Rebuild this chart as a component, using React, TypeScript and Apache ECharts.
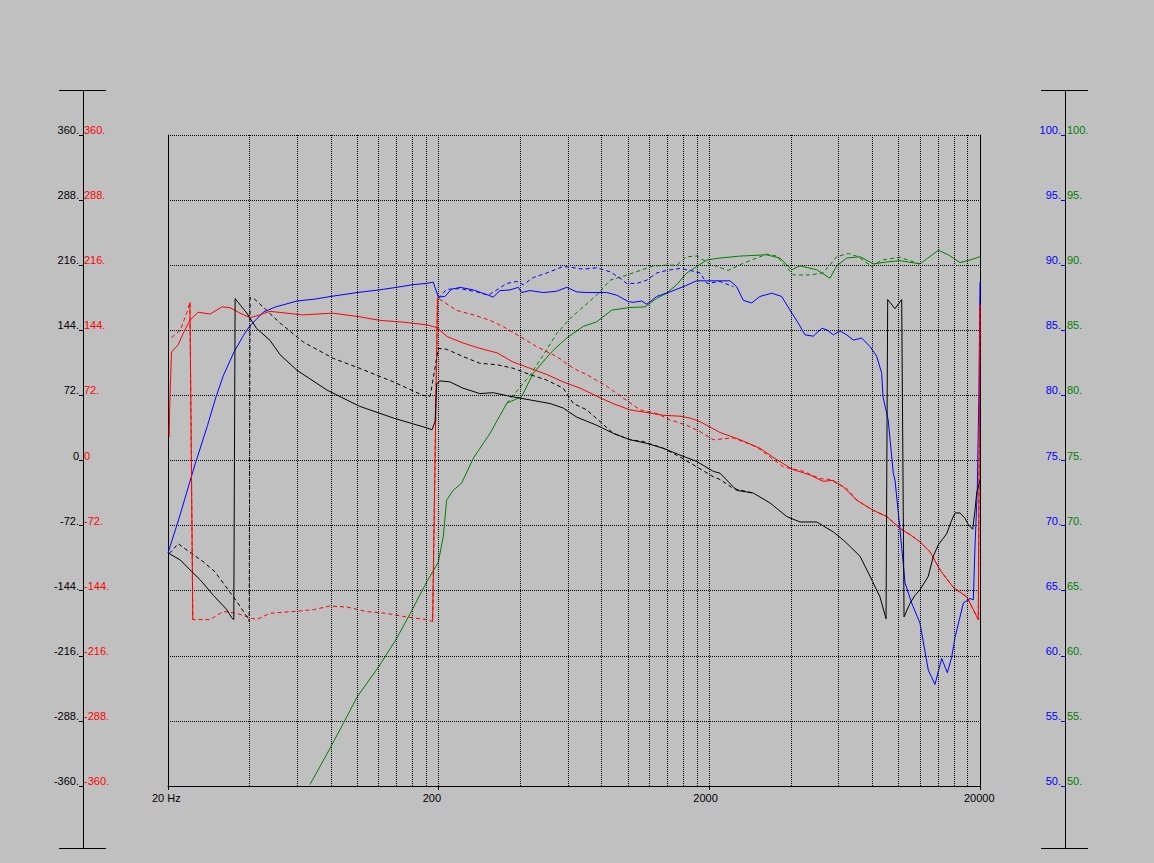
import React, { useEffect, useRef } from 'react';
import * as echarts from 'echarts';

// ---- axis ticks / labels ----
const FREQ_TICK_LABELS = ['20 Hz', '200', '2000', '20000'];
const GRID_FREQS = [40, 60, 80, 100, 120, 140, 160, 180, 200, 400, 600, 800, 1000, 1200, 1400, 1600, 1800, 2000, 4000, 6000, 8000, 10000, 12000, 14000, 16000, 18000];
const PHASE_TICKS = [-360, -288, -216, -144, -72, 0, 72, 144, 216, 288, 360];
const PHASE_LABELS = ['-360.', '-288.', '-216.', '-144.', '-72.', '0', '72.', '144.', '216.', '288.', '360.'];
const DB_TICKS = [50, 55, 60, 65, 70, 75, 80, 85, 90, 95, 100];
const DB_LABELS = ['50.', '55.', '60.', '65.', '70.', '75.', '80.', '85.', '90.', '95.', '100.'];

// ---- series: [frequency Hz, value] ----
const blueSolid = [[20,67.9],[22,70.6],[25,74.5],[28,77.7],[30,79.8],[32,81.5],[35,83.3],[38,84.6],[40,85.3],[45,86.4],[50,86.8],[60,87.25],[70,87.4],[80,87.6],[100,87.9],[120,88.1],[140,88.3],[160,88.5],[180,88.6],[191,88.7],[199.4,87.55],[211,87.6],[223,88.15],[240,88.3],[269,88.1],[305,87.7],[318,87.55],[337,88.05],[367,88.1],[394,88.3],[405,87.9],[435,88.05],[487,87.9],[546,88.0],[594,88.3],[647,87.95],[705,87.9],[835,87.9],[910,87.7],[1004,87.2],[1047,87.15],[1125,87.25],[1174,87.0],[1278,87.6],[1431,87.95],[1603,88.35],[1796,88.8],[1955,88.8],[2384,88.8],[2524,88.35],[2670,87.3],[2868,87.1],[3078,87.6],[3400,87.85],[3700,87.6],[3972,86.55],[4264,85.55],[4512,84.65],[4844,84.55],[5202,85.15],[5428,85.05],[5742,84.65],[6080,84.95],[6437,84.65],[6806,84.25],[7310,84.4],[7848,83.75],[8306,83.0],[8668,81.7],[8764,79.9],[9160,78.1],[9566,74.0],[9704,73.5],[10128,69.7],[10568,65.6],[11188,64.05],[12004,62.5],[12884,58.9],[13636,57.8],[14440,59.8],[15146,58.7],[15720,59.9],[16168,61.4],[17356,64.05],[18368,64.4],[18894,64.3],[19170,68.4],[19538,72.7],[19794,79.6],[20000,88.7]];

const blueDashed = [[199.4,87.45],[214,88.15],[240,88.2],[276,87.95],[305,87.7],[328,88.1],[357,88.6],[389,88.75],[411,88.5],[447,89.05],[501,89.4],[577,89.9],[611,89.85],[684,89.7],[767,89.8],[859,89.5],[936,89.0],[990,88.6],[1078,88.6],[1174,88.85],[1278,89.4],[1391,89.6],[1558,89.75],[1697,89.6],[1848,89.4],[1960,88.6],[2190,88.75],[2452,88.35]];

const greenSolid = [[66.9,50.1],[79.4,52.9],[88.8,54.8],[100,56.85],[120,59.15],[140,61.35],[157,63.25],[181,65.7],[199.4,67.2],[208,69.15],[214,71.95],[226,72.7],[243,73.25],[269,75.2],[310,77.1],[357,79.4],[405,79.9],[447,81.7],[523,83.35],[594,84.4],[684,85.3],[767,85.65],[872,86.55],[1018,86.75],[1157,86.8],[1278,87.45],[1391,87.85],[1515,88.5],[1650,89.4],[1796,89.9],[1955,90.4],[2190,90.55],[2596,90.7],[3258,90.8],[3648,90.55],[4030,89.65],[4326,89.95],[4986,89.65],[5582,89.0],[5910,89.95],[6437,90.55],[7210,90.65],[8070,90.1],[9044,90.25],[10128,90.35],[12004,90.1],[14040,91.15],[15274,90.8],[16872,90.2],[18368,90.4],[20000,90.65]];

const greenDashed = [[357,79.4],[435,81.55],[487,83.1],[546,84.75],[611,85.9],[684,86.8],[767,87.7],[859,88.85],[962,89.15],[1078,89.5],[1225,89.9],[1352,90.0],[1515,90.0],[1650,90.65],[1796,90.7],[2011,90.1],[2130,89.9],[2350,89.6],[2670,90.15],[3258,90.85],[3548,90.7],[4086,89.25],[4710,89.25],[5260,89.4],[5910,90.65],[6524,90.9],[7100,90.65],[7958,89.9],[8668,90.4],[10128,90.6],[12004,90.1]];

const redSolid = [[20.2,26],[20.3,62],[20.6,120],[21.8,128],[22.8,141],[24.1,155],[25.8,164],[28.6,162],[31.7,170],[33.9,169],[36.9,163],[40.2,158],[43.7,161],[47.6,165],[63,161],[81,163],[102,159],[121,155],[148,153],[181,150],[197,147],[215,137],[246,130],[284,124],[329,119],[376,109],[435,102],[503,95],[576,87],[666,80],[769,71],[881,63],[1018,56],[1177,53],[1349,50],[1558,49],[1697,47],[1848,43],[2190,31],[2596,23],[3078,13.5],[3557,0.6],[4075,-10],[4710,-16],[5260,-23],[5728,-22],[6236,-29],[7024,-44],[8050,-55],[9044,-62],[10128,-75],[11026,-82],[12004,-90],[13074,-101],[14232,-121],[15898,-140],[17900,-151],[19712,-176],[20000,172]];

const redDashed = [[20.6,136],[22.2,144],[23.5,164],[24.1,175],[24.7,-176],[28.6,-176],[32,-167],[35.9,-169],[40.2,-174],[42.5,-176],[47.6,-169],[58,-167],[69,-165],[79,-161],[91.5,-162],[108,-167],[128,-169],[152,-173],[181,-176],[190,-178],[198,180],[233,166],[269,161],[310,155],[347,148],[400,137],[460,126],[546,115],[629,102],[725,93],[835,82],[962,69],[1109,56],[1278,52],[1431,45],[1650,39],[1848,32],[2068,23],[2452,25],[2992,15],[3752,-7],[4449,-12],[5128,-20],[5584,-21],[6437,-31],[7008,-44],[8050,-55],[9044,-62],[10128,-75],[11026,-82],[12004,-90],[13074,-101],[14232,-121],[15898,-140],[17900,-151],[19712,-176],[20000,172]];

const blackSolid = [[20.2,-103],[22.2,-110],[24.5,-123],[26.3,-132],[29.4,-149],[33,-165],[34.4,-174],[35.0,-176],[35.4,179],[39.1,163],[42.5,146],[47.6,133],[51.9,117],[59.8,100],[77.2,78],[102,60],[136,47],[181,36],[189,34],[194,43],[196.7,85],[202,88],[220,87],[246,80],[284,74],[318,75],[367,71],[435,67],[516,63],[577,58],[647,48],[767,39],[884,30],[1018,23],[1174,19],[1352,13.5],[1558,6],[1796,-1],[2068,-12],[2190,-14],[2524,-33],[2908,-36],[3352,-47],[3864,-62],[4326,-68],[4986,-68],[5742,-79],[6252,-88],[6618,-95],[7210,-106],[7848,-128],[8542,-151],[8992,-175],[9120,178],[9704,168],[10274,178],[10480,-173],[11026,-158],[11506,-149],[12004,-143],[12884,-128],[13442,-106],[14040,-93],[15068,-81],[15720,-66],[16168,-58],[16872,-58],[17610,-64],[18108,-71],[18794,-76],[19170,-55],[19438,-36],[20000,-22]];

const blackDashed = [[20.2,-103],[21.8,-92],[24.5,-103],[27,-112],[29.8,-123],[33,-141],[35.9,-156],[39.6,-175],[39.9,-178],[40.2,180],[41.6,179],[46.3,166],[51.9,152],[63.2,131],[81.6,113],[102,102],[136,87],[175,72],[186,71],[199.4,124],[214,123],[246,115],[284,107.5],[328,106],[377,102],[435,95],[501,89],[577,80],[629,63],[705,56],[789,43],[884,30],[1018,23],[1140,21],[1352,13.5],[1558,4],[1796,-7],[2068,-18],[2190,-21],[2452,-31],[2908,-36]];

const FONT = 'Liberation Sans, Arial, sans-serif';

function phaseLabel(v: number) {
  const i = PHASE_TICKS.indexOf(Math.round(v));
  return i >= 0 ? PHASE_LABELS[i] : '';
}
function dbLabel(v: number) {
  const i = DB_TICKS.indexOf(Math.round(v));
  return i >= 0 ? DB_LABELS[i] : '';
}

// the plotting program draws the +-180 wrap jumps of a dashed trace as one solid stroke
function wrapJumps(data: number[][]) {
  const segs: number[][][] = [];
  for (let i = 1; i < data.length; i++) {
    if (Math.abs(data[i][1] - data[i - 1][1]) > 300 && data[i][0] < 19000) segs.push([data[i - 1], data[i]]);
  }
  return segs;
}

function curve(data: number[][], color: string, dashed: boolean, yAxisIndex: number) {
  return {
    type: 'line',
    data,
    xAxisIndex: 0,
    yAxisIndex,
    symbol: 'none',
    showSymbol: false,
    silent: true,
    smooth: false,
    lineStyle: { color, width: 1, type: dashed ? [4, 3] : 'solid' },
    z: 3,
  };
}

export default function App() {
  const ref = useRef<HTMLDivElement>(null);
  useEffect(() => {
    if (!ref.current) return;
    const chart = echarts.init(ref.current, undefined, { renderer: 'svg' });
    const labelBase = { fontFamily: FONT, fontSize: 11, verticalAlign: 'bottom', lineHeight: 10, showMinLabel: true, showMaxLabel: true };
    const hiddenAxisParts = { splitLine: { show: false }, axisLine: { show: false, onZero: false } };
    const redWraps = wrapJumps(redDashed).map((seg) => curve(seg, '#ff0000', false, 0));
    chart.setOption({
      animation: false,
      backgroundColor: '#c0c0c0',
      grid: { left: 168, right: 174, top: 135, bottom: 77, containLabel: false },
      xAxis: [
        {
          type: 'log', logBase: 10, min: 20, max: 20000,
          axisLine: { show: true, onZero: false, lineStyle: { color: '#000', width: 1 } },
          axisTick: { show: false }, axisLabel: { show: false },
          splitLine: { show: false }, minorSplitLine: { show: false },
        },
        {
          type: 'value', min: 0, max: 3, interval: 1, position: 'bottom',
          axisLine: { show: false, onZero: false },
          axisTick: { show: true, length: 4, lineStyle: { color: '#000' } },
          splitLine: { show: false },
          axisLabel: {
            margin: 6, color: '#000', fontFamily: FONT, fontSize: 11,
            showMinLabel: true, showMaxLabel: true,
            formatter: (v: number) => '{a|' + (FREQ_TICK_LABELS[Math.round(v)] || '') + '}',
            rich: { a: { width: 32, align: 'left', fontFamily: FONT, fontSize: 11, color: '#000' } },
          },
        },
      ],
      yAxis: [
        {
          type: 'value', min: -360, max: 360, interval: 72, position: 'left',
          axisLine: { show: true, onZero: false, lineStyle: { color: '#000' } },
          axisTick: { show: false }, axisLabel: { show: false },
          splitLine: { show: true, lineStyle: { color: '#000', width: 1, type: [1, 1] } },
        },
        {
          type: 'value', min: 50, max: 100, interval: 5, position: 'right',
          axisLine: { show: true, onZero: false, lineStyle: { color: '#000' } },
          axisTick: { show: false }, axisLabel: { show: false }, splitLine: { show: false },
        },
        {
          type: 'value', min: -360, max: 360, interval: 72, position: 'left', offset: 85,
          ...hiddenAxisParts,
          axisTick: { show: true, length: 4, lineStyle: { color: '#000' } },
          axisLabel: { ...labelBase, margin: 4, color: '#000', formatter: phaseLabel },
        },
        {
          type: 'value', min: -360, max: 360, interval: 72, position: 'left', offset: 85,
          ...hiddenAxisParts,
          axisTick: { show: false },
          axisLabel: { ...labelBase, inside: true, margin: 1, color: '#ff0000', formatter: phaseLabel },
        },
        {
          type: 'value', min: 50, max: 100, interval: 5, position: 'right', offset: 85,
          ...hiddenAxisParts,
          axisTick: { show: true, inside: true, length: 4, lineStyle: { color: '#0000ff' } },
          axisLabel: { ...labelBase, inside: true, margin: 4, color: '#0000ff', formatter: dbLabel },
        },
        {
          type: 'value', min: 50, max: 100, interval: 5, position: 'right', offset: 85,
          ...hiddenAxisParts,
          axisTick: { show: false },
          axisLabel: { ...labelBase, margin: 2, color: '#008000', formatter: dbLabel },
        },
      ],
      graphic: [
        { type: 'line', silent: true, shape: { x1: 83.5, y1: 90, x2: 83.5, y2: 849 }, style: { stroke: '#000', lineWidth: 1 } },
        { type: 'line', silent: true, shape: { x1: 59, y1: 90.5, x2: 106, y2: 90.5 }, style: { stroke: '#000', lineWidth: 1 } },
        { type: 'line', silent: true, shape: { x1: 59, y1: 848.5, x2: 106, y2: 848.5 }, style: { stroke: '#000', lineWidth: 1 } },
        { type: 'line', silent: true, shape: { x1: 1065.5, y1: 90, x2: 1065.5, y2: 849 }, style: { stroke: '#000', lineWidth: 1 } },
        { type: 'line', silent: true, shape: { x1: 1041, y1: 90.5, x2: 1088, y2: 90.5 }, style: { stroke: '#000', lineWidth: 1 } },
        { type: 'line', silent: true, shape: { x1: 1041, y1: 848.5, x2: 1088, y2: 848.5 }, style: { stroke: '#000', lineWidth: 1 } },
      ],
      series: [
        {
          type: 'line', xAxisIndex: 0, yAxisIndex: 0, data: [[20, -360]], symbol: 'none', silent: true,
          lineStyle: { width: 0, opacity: 0 }, z: 1,
          markLine: {
            silent: true, symbol: ['none', 'none'], label: { show: false },
            lineStyle: { color: '#000', width: 1, type: [1, 1] },
            emphasis: { disabled: true },
            data: GRID_FREQS.map((f) => ({ xAxis: f })),
          },
        },
        curve(greenSolid, '#008000', false, 1),
        curve(greenDashed, '#008000', true, 1),
        curve(blueSolid, '#0000ff', false, 1),
        curve(blueDashed, '#0000ff', true, 1),
        curve(redSolid, '#ff0000', false, 0),
        curve(redDashed, '#ff0000', true, 0),
        ...redWraps,
        curve(blackSolid, '#000000', false, 0),
        curve(blackDashed, '#000000', true, 0),
      ],
    });
    return () => chart.dispose();
  }, []);
  return (
    <div
      ref={ref}
      style={{ position: 'fixed', left: 0, top: 0, width: 1154, height: 863, background: '#c0c0c0' }}
    />
  );
}
